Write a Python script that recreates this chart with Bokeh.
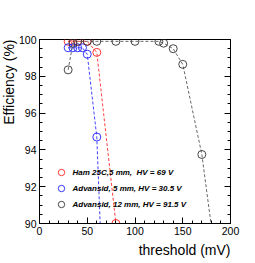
from bokeh.plotting import figure
from bokeh.models import (Range1d, SingleIntervalTicker, LinearAxis, Legend, LegendItem, Title)
from bokeh.embed import file_html
from bokeh.resources import INLINE

# Data
ham_x = [30, 35, 40, 50, 60, 80]
ham_y = [99.9, 99.9, 99.9, 99.9, 99.3, 90.0]

adv5_x = [30, 35, 40, 45, 50, 60, 70]
adv5_y = [99.55, 99.55, 99.55, 99.55, 99.2, 94.7, 81.3]

adv12_x = [30, 35, 40, 50, 60, 80, 100, 125, 130, 140, 150, 170, 190]
adv12_y = [98.35, 99.8, 99.9, 99.9, 99.9, 99.9, 99.9, 99.9, 99.8, 99.5, 98.65, 93.75, 85.9]

labels = ["Ham 25C,5 mm,  HV = 69 V",
          "Advansid, 5 mm, HV = 30.5 V",
          "Advansid, 12 mm, HV = 91.5 V"]
colors = ["#ff2020", "#2020ff", "#333333"]
line_colors = ["#ff4040", "#4040ff", "#666666"]

y_ticks = [90, 92, 94, 96, 98, 100]

FONT = "Liberation Sans"

p = figure(frame_width=191, frame_height=184, min_border_left=38, min_border_right=26,
           min_border_top=39, min_border_bottom=40,
           x_range=Range1d(0, 200), y_range=Range1d(90, 100),
           output_backend="svg", toolbar_location=None, tools="")
p.background_fill_color = "white"
p.border_fill_color = "white"
p.outline_line_color = "black"
p.outline_line_width = 1
p.xgrid.visible = False
p.ygrid.visible = False

p.xaxis.ticker = SingleIntervalTicker(interval=50, num_minor_ticks=5)
p.yaxis.ticker = SingleIntervalTicker(interval=2, num_minor_ticks=4)
for ax in (p.xaxis, p.yaxis):
    ax.major_tick_in = 6
    ax.major_tick_out = 0
    ax.minor_tick_in = 3
    ax.minor_tick_out = 0
    ax.axis_line_color = "black"
    ax.major_tick_line_color = "black"
    ax.minor_tick_line_color = "black"
    ax.major_label_text_font = FONT
    ax.major_label_text_font_size = "10.5px"
    ax.major_label_text_color = "black"
    ax.major_label_standoff = 3

right = LinearAxis(ticker=SingleIntervalTicker(interval=2, num_minor_ticks=4),
                   major_tick_in=6, major_tick_out=0, minor_tick_in=3, minor_tick_out=0,
                   major_label_overrides={v: "" for v in y_ticks}, major_label_standoff=0,
                   axis_line_color="black")
p.add_layout(right, "right")

series = [(ham_x, ham_y), (adv5_x, adv5_y), (adv12_x, adv12_y)]
items = []
for (xs, ys), lab, c, lc in zip(series, labels, colors, line_colors):
    p.line(xs, ys, line_color=lc, line_width=1, line_dash="3 2")
    r = p.scatter(xs, ys, marker="circle", size=8, fill_color=None, line_color=c, line_width=0.9)
    items.append(LegendItem(label=lab, renderers=[r]))

legend = Legend(items=items, location=(13.5, 11), glyph_width=16, glyph_height=16,
                label_height=16, spacing=0, padding=0, margin=0, label_standoff=4,
                background_fill_alpha=0, border_line_color=None,
                label_text_font=FONT, label_text_font_style="bold italic",
                label_text_font_size="8px", label_text_color="black")
p.add_layout(legend, "center")

ytitle = Title(text="Efficiency (%)", align="right", standoff=0,
               text_font=FONT, text_font_size="14px", text_font_style="normal",
               text_color="black")
try:
    ytitle.standoff = -3
except Exception:
    pass
p.add_layout(ytitle, "left")
xtitle = Title(text="threshold (mV)", align="right", standoff=4,
               text_font=FONT, text_font_size="14px", text_font_style="normal",
               text_color="black")
p.add_layout(xtitle, "below")

open("out.html", "w").write(file_html(p, INLINE))
